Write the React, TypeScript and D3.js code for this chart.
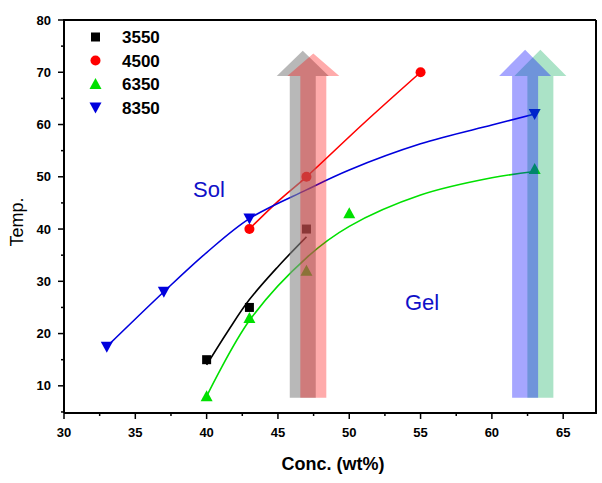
import React from "react";
import * as d3 from "d3";

// ---- data ----
const seriesNames = ["3550", "4500", "6350", "8350"];
const seriesColors = ["#000000", "#ff0000", "#00e000", "#0000dd"];
const seriesShapes = ["square", "circle", "triangle", "triangleDown"];

const conc3550 = [40, 43, 47];
const temp3550 = [15, 25, 40];
const conc4500 = [43, 47, 55];
const temp4500 = [40, 50, 70];
const conc6350 = [40, 43, 47, 50, 63];
const temp6350 = [8, 23, 32, 43, 51.5];
const conc8350 = [33, 37, 43, 63];
const temp8350 = [17.5, 28, 42, 62];

// fitted curves
const fitX3550 = [40, 41.5, 43, 45, 47];
const fitY3550 = [14, 20.5, 26.5, 32.8, 38.5];
const fitX4500 = [43, 45, 47, 51, 55];
const fitY4500 = [40, 45.3, 50, 60.2, 70];
const fitX6350 = [40, 43, 47, 50, 55, 60, 63];
const fitY6350 = [8, 22.5, 34.5, 40.5, 46.5, 49.8, 51];
const fitX8350 = [33, 37, 40, 43, 47, 50, 55, 60, 63];
const fitY8350 = [17.5, 28, 35.5, 42, 47.5, 51.3, 56.3, 59.9, 62];

// arrows: center concentration, colour, opacity
const arrowCenters = [46.74, 47.48, 63.4, 62.33];
const arrowColors = ["#888888", "#ff0000", "#00aa55", "#0000ff"];
const arrowOpacity = [0.6, 0.33, 0.33, 0.35];
const arrowTips = [74.1, 73.6, 74.3, 74.3];

const xTicks = [30, 35, 40, 45, 50, 55, 60, 65];
const xMinor = [32.5, 37.5, 42.5, 47.5, 52.5, 57.5, 62.5, 67.5];
const yTicks = [10, 20, 30, 40, 50, 60, 70, 80];
const yMinor = [5, 15, 25, 35, 45, 55, 65, 75];

const W = 602;
const H = 483;
const L = 64, R = 596, T = 20, B = 413;

const x = d3.scaleLinear().domain([30, 67.3]).range([L, R]);
const y = d3.scaleLinear().domain([4.8, 80]).range([B, T]);

const FONT = "'Liberation Sans', Arial, sans-serif";

function Marker({ shape, cx, cy, color }: { shape: string; cx: number; cy: number; color: string }) {
  if (shape === "square") return <rect x={cx - 4.5} y={cy - 4.5} width={9} height={9} fill={color} />;
  if (shape === "circle") return <circle cx={cx} cy={cy} r={5} fill={color} />;
  if (shape === "triangle")
    return <path d={`M${cx},${cy - 6} L${cx + 6},${cy + 5} L${cx - 6},${cy + 5} Z`} fill={color} />;
  return <path d={`M${cx},${cy + 6} L${cx + 6},${cy - 5} L${cx - 6},${cy - 5} Z`} fill={color} />;
}

export default function App() {
  const seriesX = [conc3550, conc4500, conc6350, conc8350];
  const seriesY = [temp3550, temp4500, temp6350, temp8350];
  const fitXs = [fitX3550, fitX4500, fitX6350, fitX8350];
  const fitYs = [fitY3550, fitY4500, fitY6350, fitY8350];

  const line = d3
    .line<[number, number]>()
    .x((d) => x(d[0]))
    .y((d) => y(d[1]))
    .curve(d3.curveCatmullRom.alpha(0.5));

  const shaftHalf = 13;
  const headHalf = 26;
  const headBase = y(69.3);
  const shaftBottom = y(7.7);

  const legendRows = [37, 60.5, 84, 107.5];

  return (
    <svg width={W} height={H} style={{ position: "absolute", left: 0, top: 0, background: "#fff" }}>
      <rect x={0} y={0} width={W} height={H} fill="#fff" />
      {/* fitted curves */}
      {fitXs.map((fx, i) => (
        <path
          key={"fit" + i}
          d={line(fx.map((v, j) => [v, fitYs[i][j]]) as [number, number][]) || ""}
          fill="none"
          stroke={seriesColors[i]}
          strokeWidth={1.6}
        />
      ))}
      {/* markers */}
      {seriesX.map((sx, i) =>
        sx.map((v, j) => (
          <Marker key={`m${i}-${j}`} shape={seriesShapes[i]} cx={x(v)} cy={y(seriesY[i][j])} color={seriesColors[i]} />
        ))
      )}
      {/* arrows */}
      {arrowCenters.map((c, i) => {
        const cx = x(c);
        const tip = y(arrowTips[i]);
        const d = `M${cx - shaftHalf},${shaftBottom} L${cx - shaftHalf},${headBase} L${cx - headHalf},${headBase} L${cx},${tip} L${cx + headHalf},${headBase} L${cx + shaftHalf},${headBase} L${cx + shaftHalf},${shaftBottom} Z`;
        return <path key={"a" + i} d={d} fill={arrowColors[i]} fillOpacity={arrowOpacity[i]} />;
      })}
      {/* frame */}
      <line x1={L} y1={T} x2={R} y2={T} stroke="#000" strokeWidth={2} />
      <line x1={R} y1={T} x2={R} y2={B} stroke="#000" strokeWidth={2} />
      <line x1={L} y1={B} x2={R + 1} y2={B} stroke="#000" strokeWidth={2} />
      <line x1={L} y1={T - 1} x2={L} y2={B} stroke="#000" strokeWidth={2} />
      {/* x ticks */}
      {xTicks.map((t) => (
        <g key={"xt" + t}>
          <line x1={x(t)} x2={x(t)} y1={B} y2={B + 6} stroke="#000" strokeWidth={1.5} />
          <text x={x(t)} y={B + 24} textAnchor="middle" fontFamily={FONT} fontWeight="bold" fontSize={13}>
            {t}
          </text>
        </g>
      ))}
      {xMinor.filter((t) => x(t) <= R).map((t) => (
        <line key={"xm" + t} x1={x(t)} x2={x(t)} y1={B} y2={B + 3} stroke="#000" strokeWidth={1.5} />
      ))}
      {/* y ticks */}
      {yTicks.map((t) => (
        <g key={"yt" + t}>
          <line x1={L - 6} x2={L} y1={y(t)} y2={y(t)} stroke="#000" strokeWidth={1.5} />
          <text x={L - 13} y={y(t) + 4.5} textAnchor="end" fontFamily={FONT} fontWeight="bold" fontSize={13}>
            {t}
          </text>
        </g>
      ))}
      {yMinor.filter((t) => y(t) <= B).map((t) => (
        <line key={"ym" + t} x1={L - 3} x2={L} y1={y(t)} y2={y(t)} stroke="#000" strokeWidth={1.5} />
      ))}
      {/* axis titles */}
      <text x={333} y={470} textAnchor="middle" fontFamily={FONT} fontWeight="bold" fontSize={18}>
        Conc. (wt%)
      </text>
      <text
        transform={`translate(23,222) rotate(-90)`}
        textAnchor="middle"
        fontFamily={FONT}
        fontSize={18}
      >
        Temp.
      </text>
      {/* region labels */}
      <text x={193} y={197} fontFamily={FONT} fontSize={22} fill="#1010c8">
        Sol
      </text>
      <text x={405} y={310} fontFamily={FONT} fontSize={22} fill="#1010c8">
        Gel
      </text>
      {/* legend */}
      {seriesNames.map((n, i) => (
        <g key={"lg" + i}>
          <Marker shape={seriesShapes[i]} cx={95.5} cy={legendRows[i]} color={seriesColors[i]} />
          <text x={122} y={legendRows[i] + 6} fontFamily={FONT} fontWeight="bold" fontSize={17}>
            {n}
          </text>
        </g>
      ))}
    </svg>
  );
}
